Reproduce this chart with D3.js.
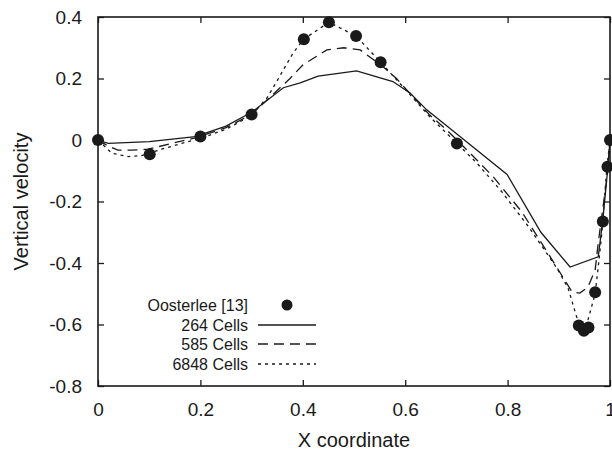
<!DOCTYPE html>
<html>
<head>
<meta charset="utf-8">
<script src="https://cdn.jsdelivr.net/npm/d3@7"></script>
<style>
  html, body { margin: 0; padding: 0; background: #fff; }
  svg { display: block; font-family: "Liberation Sans", Arial, sans-serif; }
</style>
</head>
<body>
<svg id="chart"></svg>
<script>
// reference data (Oosterlee [13])
const refX = [0, 0.101, 0.2, 0.3, 0.402, 0.451, 0.504, 0.552, 0.701, 0.939, 0.949, 0.958, 0.971, 0.986, 0.995, 1.0];
const refY = [0, -0.046, 0.011, 0.083, 0.328, 0.383, 0.338, 0.253, -0.011, -0.603, -0.62, -0.61, -0.495, -0.265, -0.087, 0];

// 264 cells
const c264X = [0, 0.02, 0.1, 0.19, 0.25, 0.3, 0.362, 0.395, 0.43, 0.505, 0.576, 0.61, 0.642, 0.707, 0.799, 0.865, 0.922, 0.977, 0.986, 0.996, 1];
const c264Y = [0, -0.011, -0.005, 0.011, 0.045, 0.09, 0.17, 0.186, 0.208, 0.225, 0.19, 0.152, 0.098, 0.011, -0.112, -0.3, -0.413, -0.38, -0.26, -0.087, 0];

// 585 cells
const c585X = [0, 0.02, 0.039, 0.066, 0.098, 0.144, 0.19, 0.25, 0.3, 0.33, 0.375, 0.4, 0.447, 0.48, 0.512, 0.557, 0.583, 0.615, 0.648, 0.681, 0.74, 0.772, 0.828, 0.887, 0.926, 0.941, 0.957, 0.971, 0.977, 0.996, 1];
const c585Y = [0, -0.02, -0.033, -0.033, -0.03, -0.011, 0.007, 0.04, 0.083, 0.13, 0.2, 0.244, 0.293, 0.3, 0.293, 0.238, 0.2, 0.141, 0.081, 0.033, -0.065, -0.12, -0.234, -0.39, -0.494, -0.498, -0.478, -0.423, -0.335, -0.098, 0];

// 6848 cells
const c6848X = [0, 0.027, 0.059, 0.085, 0.124, 0.176, 0.2, 0.25, 0.3, 0.33, 0.349, 0.362, 0.381, 0.402, 0.451, 0.504, 0.552, 0.6, 0.65, 0.701, 0.74, 0.789, 0.84, 0.896, 0.918, 0.935, 0.941, 0.951, 0.957, 0.971, 0.977, 0.984, 0.994, 1];
const c6848Y = [0, -0.043, -0.054, -0.051, -0.03, -0.005, 0.005, 0.035, 0.08, 0.137, 0.19, 0.228, 0.283, 0.328, 0.383, 0.338, 0.253, 0.165, 0.072, -0.011, -0.075, -0.169, -0.28, -0.416, -0.481, -0.576, -0.6, -0.618, -0.585, -0.5, -0.413, -0.303, -0.087, 0];

const xTicks = [0, 0.2, 0.4, 0.6, 0.8, 1];
const yTicks = [-0.8, -0.6, -0.4, -0.2, 0, 0.2, 0.4];
const legendLabels = ['Oosterlee [13]', '264 Cells', '585 Cells', '6848 Cells'];

const width = 612;
const height = 454;
const plotLeft = 98, plotRight = 610, plotTop = 17, plotBottom = 386;
const ink = '#1a1a1a';

const x = d3.scaleLinear().domain([0, 1]).range([plotLeft, plotRight]);
const y = d3.scaleLinear().domain([-0.8, 0.4]).range([plotBottom, plotTop]);

const svg = d3.select('#chart')
    .attr('width', width)
    .attr('height', height)
    .attr('viewBox', [0, 0, width, height]);

const fmt = (d) => d === 0 ? '0' : String(+d.toFixed(1));

// axes with inward ticks
const xAxis = d3.axisBottom(x).tickValues(xTicks).tickFormat(fmt).tickSizeInner(-6).tickSizeOuter(0).tickPadding(17);
const gx = svg.append('g').attr('transform', `translate(0,${plotBottom})`).call(xAxis);
const yAxis = d3.axisLeft(y).tickValues(yTicks).tickFormat(fmt).tickSizeInner(-6).tickSizeOuter(0).tickPadding(16);
const gy = svg.append('g').attr('transform', `translate(${plotLeft},0)`).call(yAxis);
const gt = svg.append('g').attr('transform', `translate(0,${plotTop})`)
    .call(d3.axisTop(x).tickValues(xTicks).tickFormat('').tickSizeInner(-6).tickSizeOuter(0));
const gr = svg.append('g').attr('transform', `translate(${plotRight},0)`)
    .call(d3.axisRight(y).tickValues(yTicks).tickFormat('').tickSizeInner(-6).tickSizeOuter(0));

[gx, gy, gt, gr].forEach((g) => {
  g.select('.domain').remove();
  g.selectAll('.tick line').attr('stroke', ink).attr('stroke-width', 1.3);
  g.selectAll('.tick text').attr('fill', ink).style('font-size', '19px').attr('font-family', null);
});

svg.append('rect')
    .attr('x', plotLeft).attr('y', plotTop)
    .attr('width', plotRight - plotLeft).attr('height', plotBottom - plotTop)
    .attr('fill', 'none').attr('stroke', ink).attr('stroke-width', 1.6);

// axis titles
svg.append('text')
    .attr('x', (plotLeft + plotRight) / 2).attr('y', 447)
    .attr('text-anchor', 'middle').attr('fill', ink)
    .style('font-size', '20px')
    .text('X coordinate');
svg.append('text')
    .attr('transform', `translate(28,${(plotTop + plotBottom) / 2}) rotate(-90)`)
    .attr('text-anchor', 'middle').attr('fill', ink)
    .style('font-size', '20px')
    .text('Vertical velocity');

// lines
const series = [
  {xs: c264X, ys: c264Y, dash: null},
  {xs: c585X, ys: c585Y, dash: '10,6'},
  {xs: c6848X, ys: c6848Y, dash: '3,4'},
];
const line = d3.line().x((d) => x(d[0])).y((d) => y(d[1]));

svg.append('g').selectAll('path')
    .data(series)
    .join('path')
    .attr('d', (s) => line(s.xs.map((v, i) => [v, s.ys[i]])))
    .attr('fill', 'none')
    .attr('stroke', ink)
    .attr('stroke-width', 1.3)
    .attr('stroke-dasharray', (s) => s.dash);

// reference points
svg.append('g').selectAll('circle')
    .data(refX.map((v, i) => [v, refY[i]]))
    .join('circle')
    .attr('cx', (d) => x(d[0]))
    .attr('cy', (d) => y(d[1]))
    .attr('r', 6)
    .attr('fill', ink);

// legend
const legend = svg.append('g');
const rowY = [305, 325, 344, 364];
legend.selectAll('text')
    .data(legendLabels)
    .join('text')
    .attr('x', 248)
    .attr('y', (d, i) => rowY[i])
    .attr('dy', '0.36em')
    .attr('text-anchor', 'end')
    .attr('fill', ink)
    .style('font-size', '16px')
    .text((d) => d);
legend.append('circle')
    .attr('cx', 287).attr('cy', rowY[0]).attr('r', 5.5).attr('fill', ink);
legend.selectAll('line')
    .data(series)
    .join('line')
    .attr('x1', 258).attr('x2', 316)
    .attr('y1', (d, i) => rowY[i + 1]).attr('y2', (d, i) => rowY[i + 1])
    .attr('stroke', ink)
    .attr('stroke-width', 1.3)
    .attr('stroke-dasharray', (s) => s.dash);
</script>
</body>
</html>
